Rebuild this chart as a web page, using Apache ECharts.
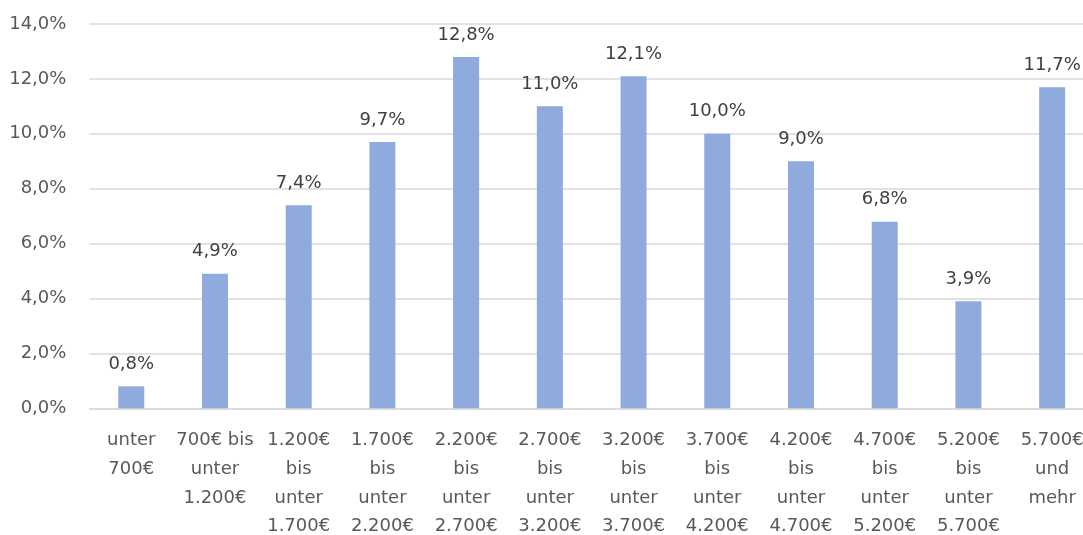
<!DOCTYPE html>
<html><head><meta charset="utf-8">
<script src="https://cdn.jsdelivr.net/npm/echarts@6/dist/echarts.min.js"></script>
<style>html,body{margin:0;padding:0;background:#fff}#c{width:1083px;height:535px}</style>
</head><body><div id="c"></div>
<script>
const categories = ["unter\n700€","700€ bis\nunter\n1.200€","1.200€\nbis\nunter\n1.700€","1.700€\nbis\nunter\n2.200€","2.200€\nbis\nunter\n2.700€","2.700€\nbis\nunter\n3.200€","3.200€\nbis\nunter\n3.700€","3.700€\nbis\nunter\n4.200€","4.200€\nbis\nunter\n4.700€","4.700€\nbis\nunter\n5.200€","5.200€\nbis\nunter\n5.700€","5.700€\nund\nmehr"];
const values = [0.8,4.9,7.4,9.7,12.8,11.0,12.1,10.0,9.0,6.8,3.9,11.7];
const fmt = v => v.toFixed(1).replace('.', ',') + '%';
const FONT = 'DejaVu Sans';
const chart = echarts.init(document.getElementById('c'));
chart.setOption({
  animation:false,
  grid:{left:89.4,right:-11,top:24,bottom:126.7,containLabel:false,outerBoundsMode:'none'},
  xAxis:{type:'category',data:categories,
    axisLine:{lineStyle:{color:'#d9d9d9',width:1.5}},axisTick:{show:false},
    axisLabel:{color:'#595959',fontFamily:FONT,fontSize:18,lineHeight:28.7,margin:18,interval:0,hideOverlap:false}},
  yAxis:{type:'value',min:0,max:14,interval:2,
    axisLabel:{formatter:v=>fmt(v),color:'#595959',fontFamily:FONT,fontSize:18,margin:23},
    splitLine:{lineStyle:{color:'#d9d9d9',width:1.5}},axisLine:{show:false},axisTick:{show:false}},
  series:[{type:'bar',data:values,barWidth:26,itemStyle:{color:'#8faadc'},
    label:{show:true,position:'top',distance:13,formatter:p=>fmt(p.value),color:'#404040',fontFamily:FONT,fontSize:18}}]
});
</script></body></html>
